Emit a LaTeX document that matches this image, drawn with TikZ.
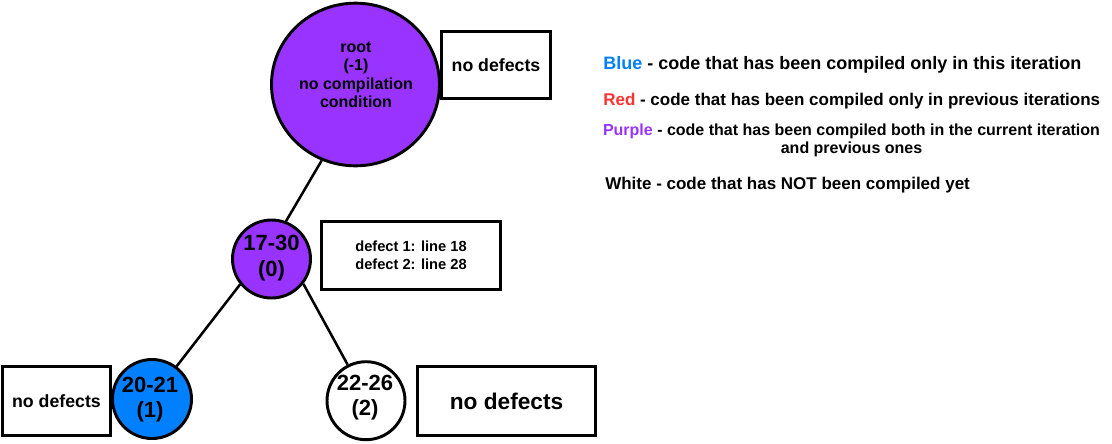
\documentclass[tikz,border=0pt]{standalone}
\usepackage{fontspec}
\setmainfont{Liberation Sans}
\usetikzlibrary{shapes.geometric}
\definecolor{cpurple}{HTML}{9933FF}
\definecolor{cblue}{HTML}{007FFF}
\definecolor{cred}{HTML}{FF3333}
\newcommand{\myfs}[2]{\fontsize{#1}{#2}\selectfont\bfseries}
\tikzset{
  shp/.style={draw=black, line width=2.2pt, inner sep=0pt, align=center},
  circ/.style={shp, circle, minimum size=#1},
  box/.style={shp, rectangle},
  conn/.style={draw=black, line width=1.9pt},
  txt/.style={inner sep=0pt, align=center, text=black}
}
\begin{document}
\begin{tikzpicture}[x=0.75pt,y=-0.75pt]
\useasboundingbox (0,0) rectangle (1112,443);
% tree nodes
\node[shp, ellipse, fill=cpurple, minimum width=126pt, minimum height=122pt] (root) at (355.5,84.5) {};
\node[txt, font=\myfs{12pt}{13.9pt}] (roott) at (356,75) {root\\(-1)\\no compilation\\condition};
\node[circ=58.5pt, fill=cpurple] (n0) at (271.5,259) {};
\node[txt, font=\myfs{16.5pt}{19.5pt}] (n0t) at (271.5,258) {17-30\\(0)};
\node[circ=59.25pt, fill=cblue] (n1) at (152,399) {};
\node[txt, font=\myfs{16.5pt}{18.75pt}] (n1t) at (150,399.5) {20-21\\(1)};
\node[circ=58.5pt, fill=white] (n2) at (366,400.7) {};
\node[txt, font=\myfs{16.5pt}{18.75pt}] (n2t) at (365,398) {22-26\\(2)};
% boxes
\node[box, minimum width=82pt, minimum height=50.5pt, font=\myfs{13.3pt}{15pt}] (b0) at (496,65) {no defects};
\node[box, minimum width=134.5pt, minimum height=51.25pt, font=\myfs{11pt}{13.2pt}] (b1) at (411,255.5) {defect 1: line 18\\defect 2: line 28};
\node[box, minimum width=81.25pt, minimum height=52pt, font=\myfs{13.3pt}{15pt}] (b2) at (56.5,401) {no defects};
\node[box, minimum width=133.75pt, minimum height=52pt, font=\myfs{17pt}{19pt}] (b3) at (506.5,401) {no defects};
% connectors
\draw[conn] (root.246) -- (n0.69);
\draw[conn] (n0.219) -- (n1.53);
\draw[conn] (n0.-38) -- (n2.117);
% legend
\node[txt, anchor=west, font=\myfs{13.5pt}{16pt}] (l1) at (603,65) {\textcolor{cblue}{Blue} - code that has been compiled only in this iteration};
\node[txt, anchor=west, font=\myfs{12.75pt}{15pt}] (l2) at (603,101) {\textcolor{cred}{Red} - code that has been compiled only in previous iterations};
\node[txt, font=\myfs{12pt}{13.5pt}] (l3) at (851.5,140) {\textcolor{cpurple}{Purple} - code that has been compiled both in the current iteration\\and previous ones};
\node[txt, anchor=west, font=\myfs{12.75pt}{15pt}] (l4) at (605,185) {White - code that has NOT been compiled yet};
\end{tikzpicture}
\end{document}
